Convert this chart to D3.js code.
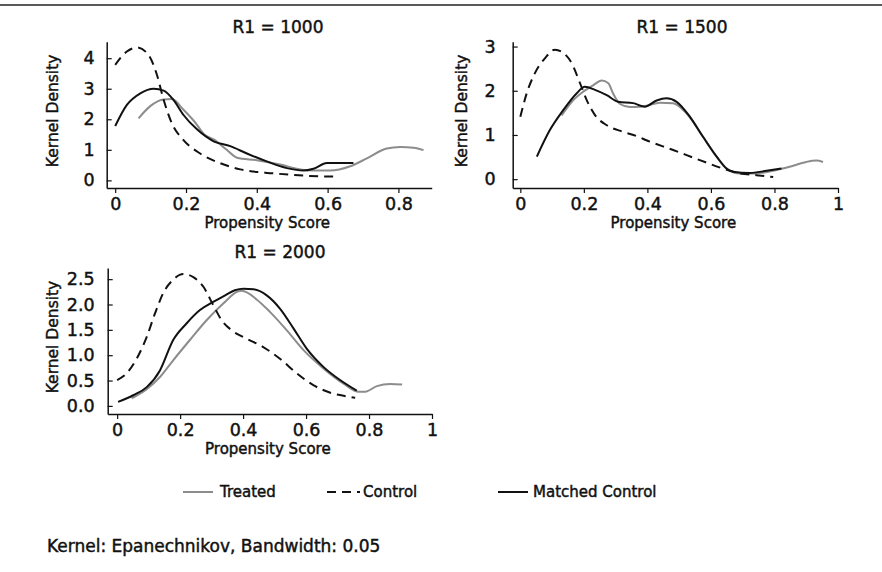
<!DOCTYPE html>
<html>
<head>
<meta charset="utf-8">
<script src="https://cdn.jsdelivr.net/npm/d3@7/dist/d3.min.js"></script>
<style>
  html, body { margin: 0; background: #fff; overflow: hidden; }
  svg { display: block; font-family: 'DejaVu Sans', sans-serif; }
  svg text { fill: #111; stroke: #111; stroke-width: 0.45px; }
</style>
</head>
<body>
<div class="chart"></div>
<script>
// 各面板的密度曲線 [propensity score, kernel density]
// R1 = 1000
const treated1000 = [[0.066,2.03],[0.099,2.43],[0.137,2.65],[0.16,2.66],[0.193,2.31],[0.231,1.82],[0.25,1.52],[0.278,1.34],[0.315,1.0],[0.344,0.74],[0.4,0.66],[0.466,0.52],[0.523,0.36],[0.56,0.32],[0.607,0.32],[0.664,0.46],[0.711,0.72],[0.767,1.04],[0.805,1.09],[0.843,1.07],[0.871,0.99]];
const control1000 = [[0,3.78],[0.033,4.22],[0.062,4.35],[0.094,4.11],[0.118,3.45],[0.137,2.63],[0.16,1.87],[0.193,1.32],[0.24,0.88],[0.297,0.56],[0.353,0.36],[0.447,0.23],[0.541,0.15],[0.63,0.12]];
const matched1000 = [[0,1.78],[0.033,2.47],[0.071,2.85],[0.109,3.0],[0.137,2.94],[0.165,2.63],[0.193,2.14],[0.231,1.67],[0.278,1.28],[0.325,1.12],[0.372,0.88],[0.428,0.62],[0.485,0.4],[0.532,0.32],[0.56,0.38],[0.598,0.57],[0.673,0.57]];

// R1 = 1500
const treated1500 = [[0.13,1.44],[0.167,1.79],[0.198,1.98],[0.23,2.13],[0.256,2.23],[0.277,2.17],[0.292,1.94],[0.314,1.7],[0.345,1.63],[0.376,1.64],[0.397,1.66],[0.439,1.73],[0.481,1.72],[0.523,1.49],[0.575,0.96],[0.618,0.51],[0.659,0.19],[0.691,0.13],[0.743,0.13],[0.796,0.19],[0.848,0.28],[0.9,0.39],[0.932,0.42],[0.953,0.39]];
const control1500 = [[0,1.41],[0.02,1.94],[0.046,2.4],[0.078,2.74],[0.109,2.93],[0.135,2.86],[0.162,2.62],[0.188,2.17],[0.209,1.79],[0.235,1.45],[0.272,1.22],[0.324,1.07],[0.371,0.96],[0.397,0.88],[0.481,0.66],[0.565,0.43],[0.638,0.24],[0.691,0.13],[0.743,0.09],[0.796,0.05]];
const matched1500 = [[0.052,0.51],[0.093,1.11],[0.135,1.56],[0.177,1.94],[0.203,2.09],[0.235,2.02],[0.272,1.9],[0.308,1.75],[0.355,1.72],[0.392,1.64],[0.429,1.78],[0.46,1.83],[0.492,1.75],[0.534,1.41],[0.575,0.96],[0.618,0.51],[0.649,0.24],[0.67,0.17],[0.722,0.14],[0.775,0.19],[0.822,0.24]];

// R1 = 2000
const treated2000 = [[0.046,0.15],[0.094,0.33],[0.136,0.57],[0.178,0.9],[0.231,1.3],[0.284,1.69],[0.337,2.02],[0.385,2.26],[0.396,2.27],[0.443,2.1],[0.486,1.85],[0.539,1.49],[0.592,1.1],[0.655,0.74],[0.719,0.44],[0.767,0.28],[0.788,0.28],[0.825,0.39],[0.867,0.43],[0.905,0.42]];
const control2000 = [[0,0.51],[0.03,0.64],[0.062,0.93],[0.094,1.36],[0.12,1.82],[0.146,2.22],[0.178,2.49],[0.21,2.6],[0.242,2.54],[0.274,2.35],[0.305,1.99],[0.332,1.69],[0.364,1.49],[0.41,1.33],[0.464,1.16],[0.517,0.93],[0.571,0.64],[0.623,0.41],[0.677,0.26],[0.719,0.2],[0.756,0.16]];
const matched2000 = [[0.003,0.08],[0.051,0.21],[0.094,0.37],[0.136,0.7],[0.178,1.3],[0.221,1.63],[0.263,1.89],[0.305,2.05],[0.343,2.18],[0.374,2.28],[0.401,2.31],[0.433,2.3],[0.475,2.18],[0.517,1.92],[0.56,1.53],[0.602,1.13],[0.655,0.77],[0.708,0.51],[0.761,0.3]];

// 刻度
const xTicks1000 = [0, 0.2, 0.4, 0.6, 0.8];
const xTicks1500 = [0, 0.2, 0.4, 0.6, 0.8, 1];
const xTicks2000 = [0, 0.2, 0.4, 0.6, 0.8, 1];
const xTickLabels1000 = ['0', '0.2', '0.4', '0.6', '0.8'];
const xTickLabels1500 = ['0', '0.2', '0.4', '0.6', '0.8', '1'];
const xTickLabels2000 = ['0', '0.2', '0.4', '0.6', '0.8', '1'];
const yTicks1000 = [0, 1, 2, 3, 4];
const yTicks1500 = [0, 1, 2, 3];
const yTicks2000 = [0, 0.5, 1, 1.5, 2, 2.5];
const yTickLabels1000 = ['0', '1', '2', '3', '4'];
const yTickLabels1500 = ['0', '1', '2', '3'];
const yTickLabels2000 = ['0.0', '0.5', '1.0', '1.5', '2.0', '2.5'];

const seriesNames = ['Treated', 'Control', 'Matched Control'];
const seriesStyle = [
  { color: '#8c8c8c', dash: null },
  { color: '#111', dash: '9,6' },
  { color: '#111', dash: null },
];

const panels = [
  {
    title: 'R1 = 1000', series: [treated1000, control1000, matched1000],
    xTicks: xTicks1000, xLabels: xTickLabels1000, yTicks: yTicks1000, yLabels: yTickLabels1000,
    xDomain: [-0.024, 0.894], yDomain: [-0.25, 4.54],
    left: 106.7, right: 431.7, top: 41.7, bottom: 188, yPad: 12,
    titleX: 278, titleY: 27, yLabelX: 53, xLabelY: 223,
  },
  {
    title: 'R1 = 1500', series: [treated1500, control1500, matched1500],
    xTicks: xTicks1500, xLabels: xTickLabels1500, yTicks: yTicks1500, yLabels: yTickLabels1500,
    xDomain: [-0.024, 1], yDomain: [-0.2, 3.11],
    left: 512.7, right: 838, top: 41.7, bottom: 188, yPad: 17,
    titleX: 682, titleY: 27, yLabelX: 461.7, xLabelY: 223,
  },
  {
    title: 'R1 = 2000', series: [treated2000, control2000, matched2000],
    xTicks: xTicks2000, xLabels: xTickLabels2000, yTicks: yTicks2000, yLabels: yTickLabels2000,
    xDomain: [-0.03, 1], yDomain: [-0.16, 2.72],
    left: 107.7, right: 432, top: 268, bottom: 414, yPad: 13,
    titleX: 280, titleY: 252, yLabelX: 53, xLabelY: 449,
  },
];

const svg = d3
  .select('.chart')
  .append('svg')
  .attr('width', 882)
  .attr('height', 572)
  .style('background', '#fff');

// 上方分隔線
svg.append('line')
  .attr('x1', 0).attr('x2', 882)
  .attr('y1', 5).attr('y2', 5)
  .attr('stroke', '#222')
  .attr('stroke-width', 1.6);

panels.forEach((p) => {
  const x = d3.scaleLinear().domain(p.xDomain).range([p.left, p.right]);
  const y = d3.scaleLinear().domain(p.yDomain).range([p.bottom, p.top]);
  const g = svg.append('g');

  // x 軸
  const xAxis = g.append('g')
    .attr('transform', `translate(0,${p.bottom})`)
    .call(d3.axisBottom(x).tickValues(p.xTicks)
      .tickFormat((d, i) => p.xLabels[i]).tickSize(5).tickSizeOuter(0).tickPadding(5));
  // y 軸 (刻度朝內)
  const yAxis = g.append('g')
    .attr('transform', `translate(${p.left},0)`)
    .call(d3.axisLeft(y).tickValues(p.yTicks)
      .tickFormat((d, i) => p.yLabels[i]).tickSize(-5).tickSizeOuter(0).tickPadding(p.yPad));

  [xAxis, yAxis].forEach((a) => {
    a.attr('font-family', null);
    a.select('.domain').attr('stroke', '#111').attr('stroke-width', 1.5);
    a.selectAll('.tick line').attr('stroke', '#111').attr('stroke-width', 1.2);
    a.selectAll('.tick text').style('font-size', '17.5px');
  });

  const line = d3.line()
    .x((d) => x(d[0]))
    .y((d) => y(d[1]))
    .curve(d3.curveMonotoneX);

  g.selectAll('.curve')
    .data(p.series)
    .join('path')
    .attr('class', 'curve')
    .attr('d', line)
    .attr('fill', 'none')
    .attr('stroke', (d, i) => seriesStyle[i].color)
    .attr('stroke-dasharray', (d, i) => seriesStyle[i].dash)
    .attr('stroke-width', 2);

  // 標題與軸標籤
  g.append('text')
    .attr('x', p.titleX).attr('y', p.titleY).attr('dy', '0.35em')
    .attr('text-anchor', 'middle')
    .style('font-size', '17px')
    .text(p.title);

  g.append('text')
    .attr('x', (p.left + p.right) / 2 - 2).attr('y', p.xLabelY).attr('dy', '0.35em')
    .attr('text-anchor', 'middle')
    .style('font-size', '15px')
    .text('Propensity Score');

  g.append('text')
    .attr('transform', `translate(${p.yLabelX},${(p.top + p.bottom) / 2 - 4}) rotate(-90)`)
    .attr('dy', '0.35em')
    .attr('text-anchor', 'middle')
    .style('font-size', '15.5px')
    .text('Kernel Density');
});

// 圖例
const legendX = [183, 327, 498];
const legend = svg.append('g').attr('transform', 'translate(0,492)');
seriesNames.forEach((name, i) => {
  legend.append('line')
    .attr('x1', legendX[i]).attr('x2', legendX[i] + (i === 1 ? 33 : 30))
    .attr('y1', 0).attr('y2', 0)
    .attr('stroke', seriesStyle[i].color)
    .attr('stroke-dasharray', seriesStyle[i].dash)
    .attr('stroke-width', 2);
  legend.append('text')
    .attr('x', legendX[i] + (i === 1 ? 36 : i === 2 ? 35 : 37))
    .attr('y', 0).attr('dy', '0.35em')
    .style('font-size', '15px')
    .text(name);
});

// 註解
svg.append('text')
  .attr('x', 47).attr('y', 546).attr('dy', '0.35em')
  .style('font-size', '17px')
  .text('Kernel: Epanechnikov, Bandwidth: 0.05');
</script>
</body>
</html>
